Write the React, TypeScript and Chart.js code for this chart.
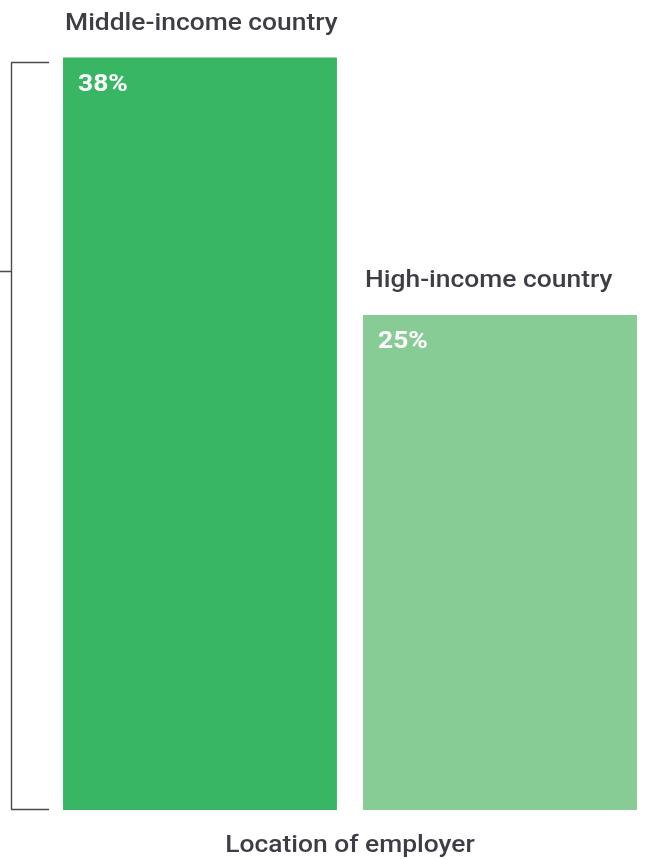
import React, { useEffect, useRef } from "react";
import { Chart, registerables } from "chart.js";

Chart.register(...registerables);

const categories = ["Middle-income country", "High-income country"];
const values = [38, 25];
const valueLabels = ["38%", "25%"];
const barColors = ["#38b664", "#87cb95"];
const axisTitle = "Location of employer";
const yMax = 40;
const bracketTop = 37.8;
const bracketMid = 27.2;

const TEXT = "#3d3d45";
const FONT = "Roboto, 'Noto Sans', sans-serif";
const STRETCH = 1.1;

function drawText(ctx: any, text: string, x: number, y: number, align: "left" | "center") {
  ctx.save();
  ctx.translate(x, y);
  ctx.scale(STRETCH, 1);
  ctx.textAlign = align;
  ctx.textBaseline = "alphabetic";
  ctx.fillText(text, 0, 0);
  ctx.restore();
}

const labelPlugin = {
  id: "labelPlugin",
  afterDatasetsDraw(chart: any) {
    const ctx = chart.ctx;
    const meta = chart.getDatasetMeta(0);
    const ys = chart.scales.y;
    const area = chart.chartArea;
    ctx.save();
    meta.data.forEach((bar: any, i: number) => {
      const left = bar.x - bar.width / 2;
      ctx.fillStyle = TEXT;
      ctx.font = `500 24px ${FONT}`;
      drawText(ctx, categories[i], left + 2, bar.y - 28, "left");
      ctx.fillStyle = "#ffffff";
      ctx.font = `700 24px ${FONT}`;
      drawText(ctx, valueLabels[i], left + 15, bar.y + 33, "left");
    });
    // axis title
    ctx.fillStyle = TEXT;
    ctx.font = `500 24px ${FONT}`;
    drawText(ctx, axisTitle, (area.left + area.right) / 2, area.bottom + 42, "center");
    // bracket
    const bx = area.left - 38.5;
    const top = Math.round(ys.getPixelForValue(bracketTop)) + 0.5;
    const bottom = Math.round(ys.getPixelForValue(0)) - 0.5;
    const mid = Math.round(ys.getPixelForValue(bracketMid)) + 0.5;
    ctx.strokeStyle = "#4a4a52";
    ctx.lineWidth = 1.4;
    ctx.beginPath();
    ctx.moveTo(area.left - 1, top);
    ctx.lineTo(bx, top);
    ctx.lineTo(bx, bottom);
    ctx.lineTo(area.left - 1, bottom);
    ctx.moveTo(bx, mid);
    ctx.lineTo(0, mid);
    ctx.stroke();
    ctx.restore();
  },
};

export default function App() {
  const ref = useRef<HTMLCanvasElement | null>(null);
  useEffect(() => {
    if (!ref.current) return;
    const chart = new Chart(ref.current, {
      type: "bar",
      data: {
        labels: categories,
        datasets: [
          {
            data: values,
            backgroundColor: barColors,
            borderWidth: 0,
            barPercentage: 0.913,
            categoryPercentage: 1,
          },
        ],
      },
      options: {
        responsive: false,
        animation: false,
        layout: { padding: { left: 50, right: 0, top: 18, bottom: 49 } },
        plugins: { legend: { display: false }, tooltip: { enabled: false } },
        scales: {
          x: { display: false },
          y: { display: false, min: 0, max: yMax },
        },
      },
      plugins: [labelPlugin],
    });
    return () => chart.destroy();
  }, []);
  return (
    <div style={{ position: "absolute", left: 0, top: 0, width: 645, height: 859, overflow: "hidden", background: "#fff" }}>
      <canvas ref={ref} width={650} height={859} style={{ display: "block" }} />
    </div>
  );
}
